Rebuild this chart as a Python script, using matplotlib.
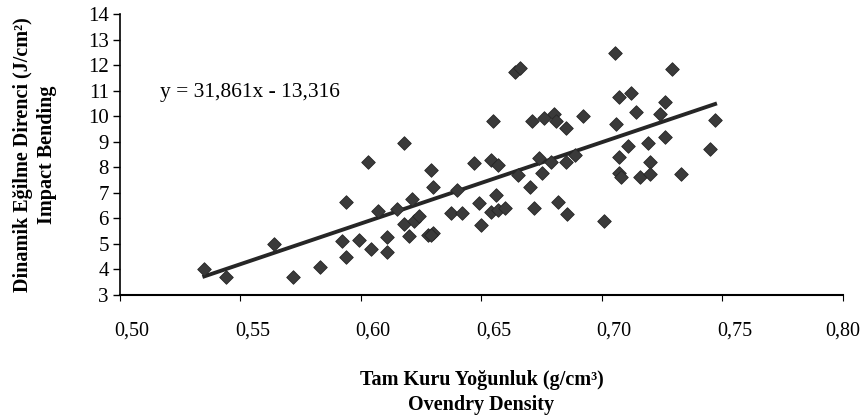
import matplotlib.pyplot as plt
import matplotlib.transforms as mtransforms
import numpy as np

# density (g/cm3) and impact bending (J/cm2)
density = [0.535, 0.544, 0.564, 0.572, 0.583, 0.594, 0.592, 0.594, 0.599, 0.603,
           0.604, 0.607, 0.611, 0.611, 0.615, 0.618, 0.618, 0.621, 0.620, 0.622,
           0.624, 0.628, 0.629, 0.630, 0.630, 0.629, 0.640, 0.6375, 0.642, 0.647,
           0.649, 0.650, 0.654, 0.657, 0.656, 0.654, 0.657, 0.660, 0.655, 0.664,
           0.666, 0.665, 0.671, 0.670, 0.672, 0.674, 0.675, 0.676, 0.680, 0.681,
           0.679, 0.682, 0.685, 0.685, 0.6855, 0.7054, 0.729, 0.707, 0.712, 0.726,
           0.692, 0.714, 0.724, 0.706, 0.747, 0.726, 0.711, 0.719, 0.689, 0.745,
           0.707, 0.720, 0.707, 0.708, 0.716, 0.720, 0.733, 0.701]
bending = [4.0, 3.7, 5.0, 3.7, 4.1, 6.65, 5.1, 4.5, 5.15, 8.2,
           4.8, 6.3, 5.28, 4.7, 6.37, 8.96, 5.8, 6.75, 5.3, 5.9,
           6.1, 5.35, 7.9, 7.24, 5.43, 5.35, 7.1, 6.2, 6.2, 8.18,
           6.6, 5.75, 8.3, 8.1, 6.9, 6.25, 6.33, 6.4, 9.82, 11.75,
           11.9, 7.7, 9.8, 7.24, 6.4, 8.37, 7.8, 9.94, 10.1, 9.8,
           8.2, 6.65, 9.55, 8.2, 6.17, 12.5, 11.86, 10.76, 10.9, 10.57,
           10.0, 10.18, 10.1, 9.7, 9.86, 9.2, 8.84, 8.96, 8.5, 8.73,
           8.4, 8.2, 7.8, 7.63, 7.63, 7.75, 7.75, 5.9]

slope = 31.861
intercept = -13.316

x_ticks = [0.50, 0.55, 0.60, 0.65, 0.70, 0.75, 0.80]
x_labels = ['0,50', '0,55', '0,60', '0,65', '0,70', '0,75', '0,80']
y_ticks = list(range(3, 15))

plt.rcParams['font.family'] = ['Liberation Serif', 'DejaVu Serif']

fig = plt.figure(figsize=(8.6, 4.18), dpi=100)
ax = fig.add_axes([0.1395, 0.2943, 0.8405, 0.6715])

ax.scatter(density, bending, marker='D', s=48, color='#3a3a3a',
           edgecolors='#262626', linewidths=0.6, zorder=3)

xs = np.array([min(density), max(density)])
ax.plot(xs, slope * xs + intercept, color='#262626', lw=2.8, zorder=2)

ax.text(0.5165, 10.75, 'y = 31,861x - 13,316', fontsize=15.5)

ax.set_xlim(0.50, 0.80)
ax.set_ylim(3, 14)
ax.set_xticks(x_ticks)
ax.set_xticklabels(x_labels, fontsize=14.5)
ax.set_yticks(y_ticks)
ax.tick_params(axis='y', labelsize=15, length=5, width=1, pad=3)
ax.tick_params(axis='x', length=4, width=0.8, pad=15)

# excel-style: x labels sit a little right of their ticks (last one kept inside)
labels = ax.get_xticklabels()
for i, lab in enumerate(labels):
    dx = 12 if i < len(labels) - 1 else 0
    shift = mtransforms.ScaledTranslation(dx / 100, 0, fig.dpi_scale_trans)
    lab.set_transform(lab.get_transform() + shift)

for side in ['top', 'right']:
    ax.spines[side].set_visible(False)
ax.spines['left'].set_linewidth(1.2)
ax.spines['bottom'].set_linewidth(1.5)

ax.set_xlabel('Tam Kuru Yoğunluk (g/cm³)\nOvendry Density', fontsize=14.5,
              fontweight='bold', labelpad=21, linespacing=1.35)
ax.set_ylabel('Dinamik Eğilme Direnci (J/cm²)\nImpact Bending', fontsize=14.5,
              fontweight='bold', labelpad=22, linespacing=1.3)

fig.savefig('out.png', dpi=100)
